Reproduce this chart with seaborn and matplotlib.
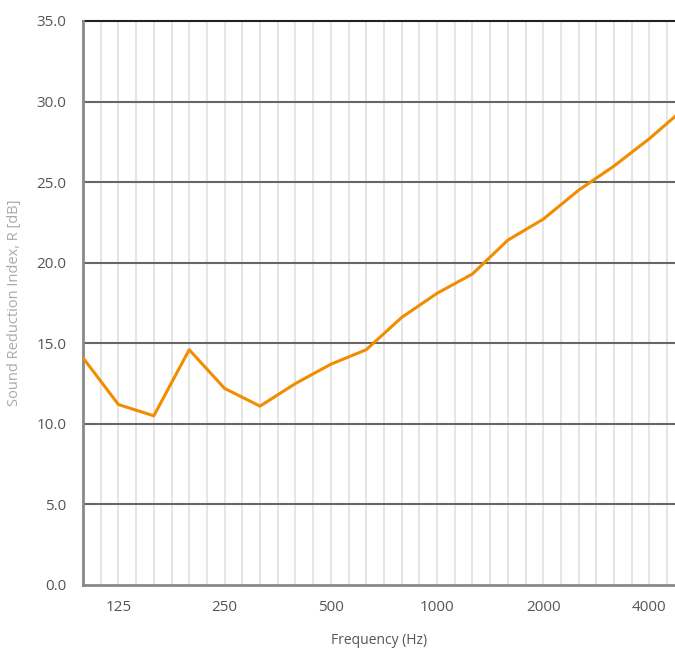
import matplotlib
matplotlib.use("Agg")
import matplotlib.pyplot as plt
import seaborn as sns
import numpy as np
import pandas as pd

# third-octave bands and measured sound reduction index
bands = [100, 125, 160, 200, 250, 315, 400, 500, 630, 800, 1000, 1250,
         1600, 2000, 2500, 3150, 4000, 5000]
r_values = [14.1, 11.2, 10.5, 14.6, 12.2, 11.1, 12.5, 13.7, 14.6, 16.6, 18.1,
            19.3, 21.4, 22.7, 24.5, 26.0, 27.7, 29.6]
tick_labels = ["125", "250", "500", "1000", "2000", "4000"]

sns.set_style("white")
plt.rcParams['font.family'] = ['Open Sans', 'DejaVu Sans']

df = pd.DataFrame({"pos": np.arange(len(bands)), "R": r_values})

fig = plt.figure(figsize=(6.75, 6.48), dpi=100)
ax = fig.add_axes([83 / 675, 63 / 648, 592 / 675, 564 / 648])

# light vertical grid every half band
for xv in np.arange(0, len(bands), 0.5):
    ax.axvline(xv, color="#e0e0e0", lw=1.2, zorder=0)
# dark horizontal grid
for yv in range(5, 35, 5):
    ax.axhline(yv, color="#666666", lw=1.5, zorder=1)
ax.axhline(35, color="#222222", lw=1.5, zorder=1, clip_on=False)

sns.lineplot(data=df, x="pos", y="R", color="#F28C00", lw=2.2, ax=ax, zorder=3)

ax.set_xlim(0, 592 / 35.4)
ax.set_ylim(0, 35)
ax.set_yticks(np.arange(0, 36, 5))
ax.set_yticklabels([f"{v:.1f}" for v in np.arange(0, 36, 5)])
ax.set_xticks([bands.index(int(t)) for t in tick_labels])
ax.set_xticklabels(tick_labels)
ax.tick_params(axis="both", length=0, labelsize=11, labelcolor="#555555")
ax.tick_params(axis="x", pad=11)
ax.tick_params(axis="y", pad=12)

for s in ["top", "right"]:
    ax.spines[s].set_visible(False)
ax.spines["left"].set_color("#888888")
ax.spines["left"].set_linewidth(2)
ax.spines["bottom"].set_color("#888888")
ax.spines["bottom"].set_linewidth(2)

ax.set_xlabel("Frequency (Hz)", fontsize=10, color="#555555", labelpad=13)
ax.set_ylabel("Sound Reduction Index, R [dB]", fontsize=10.5, color="#aaaaaa", labelpad=10)

fig.savefig("out.png", dpi=100)
